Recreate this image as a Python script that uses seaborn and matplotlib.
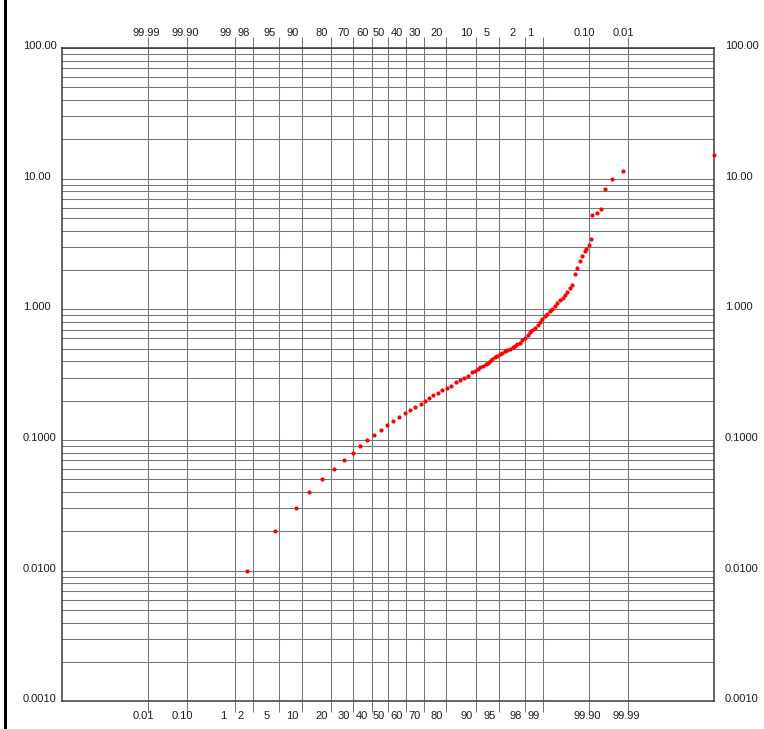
import numpy as np
import matplotlib
matplotlib.use("Agg")
import matplotlib.pyplot as plt
import seaborn as sns
import pandas as pd
from statistics import NormalDist
from matplotlib.ticker import FixedLocator, NullLocator, LogLocator, NullFormatter
from matplotlib.patches import Rectangle

# ---------------- data ----------------
values = [0.01, 0.02, 0.03, 0.04, 0.05, 0.06, 0.07, 0.08, 0.09, 0.10,
          0.11, 0.12, 0.13, 0.14, 0.15, 0.16, 0.17, 0.18, 0.19, 0.20,
          0.21, 0.22, 0.23, 0.24, 0.25, 0.26, 0.28, 0.29, 0.30, 0.31,
          0.33, 0.34, 0.35, 0.36, 0.37, 0.38, 0.39,
          0.405, 0.417, 0.429, 0.441, 0.452, 0.464, 0.476, 0.487, 0.50, 0.512,
          0.526, 0.541, 0.557, 0.582, 0.608, 0.636, 0.665, 0.693, 0.723, 0.759,
          0.797, 0.839, 0.884, 0.924, 0.965, 1.009, 1.054, 1.11, 1.168, 1.229,
          1.293, 1.366, 1.443, 1.521,
          1.86, 2.06, 2.35, 2.54, 2.79, 2.89, 3.09, 3.47, 5.24, 5.48,
          5.88, 8.33, 10.0, 11.4, 15.2]
cum_pct = [1.63, 4.38, 8.44, 12.06, 16.55, 21.26, 25.87, 30.15, 33.72, 37.6,
           41.2, 45.6, 49.4, 52.9, 56.1, 59.3, 62.4, 65.31, 68.27, 70.34,
           72.37, 74.44, 76.76, 78.55, 80.38, 82.08, 83.83, 85.31, 86.73, 87.94,
           89.07, 89.80, 90.52, 91.17, 91.85, 92.45, 93.06,
           93.38, 93.86, 94.32, 94.75, 95.16, 95.54, 95.90, 96.23, 96.54, 96.84,
           97.11, 97.35, 97.59, 97.80, 98.00, 98.18, 98.34, 98.49, 98.64, 98.77,
           98.88, 98.99, 99.094, 99.19, 99.277, 99.354, 99.424, 99.488, 99.546, 99.599,
           99.644, 99.685, 99.722, 99.755,
           99.786, 99.808, 99.833, 99.852, 99.872, 99.883, 99.896, 99.9067, 99.9158, 99.9332,
           99.9474, 99.958, 99.9733, 99.9862, 99.99999]

prob_ticks = [0.01, 0.1, 1, 2, 5, 10, 20, 30, 40, 50, 60, 70, 80, 90, 95, 98, 99, 99.9, 99.99]
bottom_labels = ["0.01", "0.10", "1", "2", "5", "10", "20", "30", "40", "50",
                 "60", "70", "80", "90", "95", "98", "99", "99.90", "99.99"]
top_labels = ["99.99", "99.90", "99", "98", "95", "90", "80", "70", "60", "50",
              "40", "30", "20", "10", "5", "2", "1", "0.10", "0.01"]
y_label_vals = [100, 10, 1, 0.1, 0.01, 0.001]
y_labels = ["100.00", "10.00", "1.000", "0.1000", "0.0100", "0.0010"]

# ---------------- probability scale (normal score, as drawn) ----------------
_N = NormalDist()
_ppf = np.vectorize(_N.inv_cdf, otypes=[float])
_cdf = np.vectorize(_N.cdf, otypes=[float])
Z_EDGE = 5.1
Z_KN = np.concatenate([[-Z_EDGE], _ppf(np.array(prob_ticks) / 100.0), [Z_EDGE]])
PX_KN = np.array([62.0, 148.3, 186.7, 235.3, 252.7, 278.7, 301.7, 331.0, 352.7, 371.7,
                  388.3, 406.0, 424.3, 445.7, 475.7, 499.0, 525.0, 542.7, 589.3, 628.3, 714.3])


def fwd(p):
    p = np.clip(np.asarray(p, dtype=float) / 100.0, 1e-15, 1 - 1e-15)
    return np.interp(_ppf(p), Z_KN, PX_KN)


def inv(u):
    u = np.asarray(u, dtype=float)
    return 100.0 * _cdf(np.interp(u, PX_KN, Z_KN))


# ---------------- figure ----------------
sns.set_style("white")
plt.rcParams["font.family"] = ["Liberation Sans", "DejaVu Sans"]
W, H = 764, 729
fig = plt.figure(figsize=(W / 100, H / 100), dpi=100)
fig.patch.set_facecolor("white")
left_px, right_px, top_px, bot_px = 62.0, 714.3, 47.9, 701.4
ax = fig.add_axes([left_px / W, 1 - bot_px / H, (right_px - left_px) / W, (bot_px - top_px) / H])
ax.set_facecolor("white")

ax.set_yscale("log")
ax.set_xscale("function", functions=(fwd, inv))
ax.set_ylim(0.001, 100)
ax.set_xlim(float(inv(left_px)), float(inv(right_px)))

GRID = "#777777"
ax.xaxis.set_major_locator(FixedLocator(prob_ticks))
ax.xaxis.set_minor_locator(NullLocator())
ax.yaxis.set_major_locator(LogLocator(base=10))
ax.yaxis.set_minor_locator(LogLocator(base=10, subs=np.arange(2, 10)))
ax.yaxis.set_minor_formatter(NullFormatter())
ax.grid(True, axis="x", which="major", color=GRID, lw=0.75)
ax.grid(True, axis="y", which="both", color=GRID, lw=0.75)
ax.tick_params(axis="x", which="major", top=True, bottom=True, direction="out",
               length=8, width=0.75, color=GRID, labelbottom=False, labeltop=False)
ax.tick_params(axis="y", which="both", length=0, labelleft=False, labelright=False)
for s in ax.spines.values():
    s.set_color("#3a3a3a")
    s.set_linewidth(1.1)

df = pd.DataFrame({"pct": cum_pct, "val": values})
sns.scatterplot(data=df, x="pct", y="val", ax=ax, color="#ff0000", s=9,
                linewidth=0, marker="o", clip_on=False, zorder=5, legend=False)
ax.set_xlabel("")
ax.set_ylabel("")

PT = 0.72  # points per pixel at 100 dpi
TXT = "#1e1e1e"
for p, lb in zip(prob_ticks, bottom_labels):
    ax.annotate(lb, xy=(p, 0), xycoords=("data", "axes fraction"),
                xytext=(-15.5 * PT, -17.9 * PT), textcoords="offset points",
                ha="left", va="baseline", fontsize=8, color=TXT)
for p, lb in zip(prob_ticks, top_labels):
    ax.annotate(lb, xy=(p, 1), xycoords=("data", "axes fraction"),
                xytext=(-15.5 * PT, 11.9 * PT), textcoords="offset points",
                ha="left", va="baseline", fontsize=8, color=TXT)
for v, lb in zip(y_label_vals, y_labels):
    ax.annotate(lb, xy=(0, v), xycoords=("axes fraction", "data"),
                xytext=(-(left_px - 22.7) * PT, -1 * PT), textcoords="offset points",
                ha="left", va="baseline", fontsize=8, color=TXT)
    ax.annotate(lb, xy=(1, v), xycoords=("axes fraction", "data"),
                xytext=((725 - right_px) * PT, -1 * PT), textcoords="offset points",
                ha="left", va="baseline", fontsize=8, color=TXT)

# window edge bar on the left
fig.patches.append(Rectangle((4 / W, 0), 2.6 / W, 1, transform=fig.transFigure,
                             facecolor="black", edgecolor="none"))

fig.savefig("out.png", dpi=100)
